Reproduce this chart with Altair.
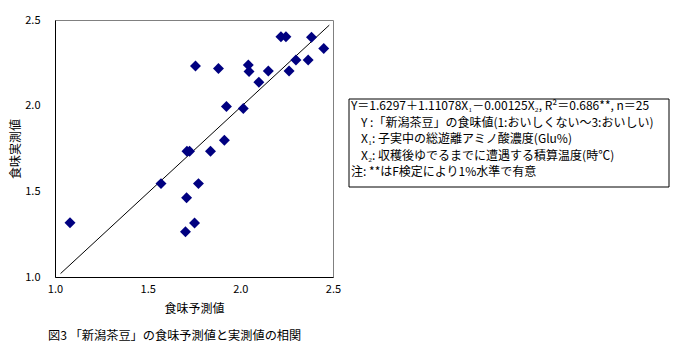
import altair as alt
import pandas as pd

# Data
predicted = [1.758, 1.882, 2.043, 2.047, 2.151, 2.100, 2.219, 2.246, 2.384, 2.450,
             2.300, 2.366, 2.263, 1.925, 2.016, 1.914, 1.712, 1.726, 1.839, 1.572,
             1.774, 1.710, 1.753, 1.704, 1.081]
measured = [2.231, 2.217, 2.237, 2.200, 2.202, 2.137, 2.402, 2.402, 2.399, 2.334,
            2.266, 2.266, 2.202, 1.995, 1.984, 1.798, 1.734, 1.734, 1.734, 1.545,
            1.545, 1.463, 1.315, 1.264, 1.317]
line_x = [1.03, 2.48]
line_y = [1.02, 2.47]
tick_values = [1.0, 1.5, 2.0, 2.5]

box_lines = [
    "Y＝1.6297＋1.11078X₁－0.00125X₂, R²＝0.686**, n＝25",
    "Y :「新潟茶豆」の食味値(1:おいしくない～3:おいしい)",
    "X₁: 子実中の総遊離アミノ酸濃度(Glu%)",
    "X₂: 収穫後ゆでるまでに遭遇する積算温度(時℃)",
    "注: **はF検定により1%水準で有意",
]
box_indent = [0, 1, 1, 1, 0]
caption = "図3 「新潟茶豆」の食味予測値と実測値の相関"

FONT = "Noto Sans CJK JP"

pts = pd.DataFrame({"x": predicted, "y": measured})
ln = pd.DataFrame({"x": line_x, "y": line_y})
one = pd.DataFrame({"a": [0]})

xscale = alt.Scale(domain=[1.0, 2.5], nice=False, zero=False)
yscale = alt.Scale(domain=[1.0, 2.5], nice=False, zero=False)

xaxis = alt.Axis(values=tick_values, format=".1f", title="食味予測値", grid=False,
                 ticks=False, domainColor="black", labelFontSize=11, labelColor="black",
                 labelFont=FONT, labelPadding=6, labelFlush=False, titleFont=FONT,
                 titleFontSize=12, titleFontWeight="normal", titleColor="black",
                 titlePadding=9)
yaxis = alt.Axis(values=tick_values, format=".1f", title="食味実測値", grid=False,
                 ticks=False, domainColor="black", labelFontSize=11, labelColor="black",
                 labelFont=FONT, labelPadding=15, labelFlush=False, titleFont=FONT,
                 titleFontSize=12, titleFontWeight="normal", titleColor="black",
                 titlePadding=2)

points = alt.Chart(pts).mark_point(shape="diamond", filled=True, size=120,
                                   color="#000080", opacity=1).encode(
    x=alt.X("x:Q", scale=xscale, axis=xaxis),
    y=alt.Y("y:Q", scale=yscale, axis=yaxis),
)

fit = alt.Chart(ln).mark_line(color="black", strokeWidth=1).encode(
    x=alt.X("x:Q", scale=xscale),
    y=alt.Y("y:Q", scale=yscale),
)

box = alt.Chart(one).mark_rect(
    fill="white", stroke="black", strokeWidth=1).encode(
    x=alt.value(294), x2=alt.value(614), y=alt.value(79), y2=alt.value(167)
)

text_style = dict(align="left", baseline="middle", font=FONT, fontSize=12,
                  color="black")
row_y = [86, 102.5, 119, 135.5, 152]

text_layers = []
for txt, ind, yy in zip(box_lines, box_indent, row_y):
    text_layers.append(
        alt.Chart(one).mark_text(**text_style).encode(
            x=alt.value(296 + 10 * ind), y=alt.value(yy), text=alt.value(txt))
    )

cap = alt.Chart(one).mark_text(
    align="left", baseline="middle", font=FONT, fontSize=12.2, color="black").encode(
    x=alt.value(-7), y=alt.value(316), text=alt.value(caption)
)

chart = alt.layer(fit, points, box, *text_layers, cap).properties(
    width=278, height=257,
    autosize=alt.AutoSizeParams(type="none"),
    padding={"left": 55, "top": 20, "right": 345, "bottom": 80},
    background="white",
).configure_view(stroke="#808080", strokeWidth=1)

chart.save("out.html", embed_options={"renderer": "svg", "actions": False})
